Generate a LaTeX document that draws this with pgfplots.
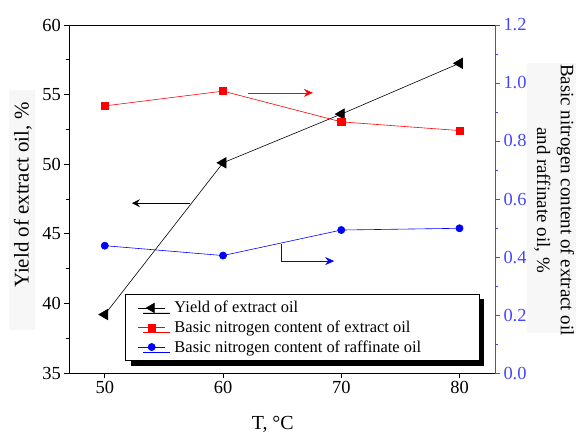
\documentclass[border=0pt]{standalone}
\usepackage{pgfplots}
\pgfplotsset{compat=1.18}
\usepackage{fontspec}
\setmainfont{Liberation Serif}
\usetikzlibrary{calc,shadows,arrows.meta}

\definecolor{nred}{RGB}{255,0,0}
\definecolor{nblue}{RGB}{0,0,255}
\definecolor{axblue}{RGB}{70,70,255}
\newcommand{\lentry}[1]{\hspace{7bp}\makebox[291bp][l]{#1}}

\begin{document}
\begin{tikzpicture}
% faint label backgrounds
\fill[black!3] (-60.3bp,43bp) rectangle (-34.3bp,283bp);
\fill[black!3] (457.7bp,40bp) rectangle (506.7bp,310bp);

\pgfplotsset{
  every axis/.append style={
    width=425.7bp, height=348bp, scale only axis,
    xmin=47, xmax=83,
    tick label style={font=\fontsize{18.5}{20}\selectfont},
    /pgf/number format/assume math mode=true,
    tick align=outside,
    major tick length=5bp, minor tick length=3bp,
    every tick/.style={line width=0.8pt},
  }
}

\begin{axis}[
  name=ax,
  ymin=35, ymax=60,
  xtick={50,60,70,80},
  ytick={35,40,45,50,55,60},
  minor y tick num=1,
  xtick pos=bottom, ytick pos=left,
  axis line style={line width=0.8pt},
  xlabel={T, °C},
  xlabel style={font=\fontsize{20}{22}\selectfont, at={(axis description cs:0.478,-0.149)}, anchor=center},
  ylabel={Yield of extract oil, \%},
  ylabel style={font=\fontsize{21}{23}\selectfont, at={(axis description cs:-0.109,0.511)}, anchor=center},
]
\addplot[black, line width=0.6pt, mark=triangle*, mark size=6bp, mark options={rotate=90, solid}]
  coordinates {(50,39.2) (60,50.1) (70,53.6) (80,57.25)};
\draw[black, line width=0.6pt, -{Stealth[length=8bp,width=8bp,inset=3bp]}]
  (axis cs:57.2,47.2) -- (axis cs:52.3,47.2);
\end{axis}

\begin{axis}[
  ymin=0, ymax=1.2,
  axis x line=none,
  axis y line*=right,
  ytick={0,0.2,...,1.2},
  minor y tick num=1,
  y axis line style={axblue, line width=0.8pt},
  y tick style={axblue},
  yticklabel style={axblue, /pgf/number format/.cd, fixed, fixed zerofill, precision=1},
  ylabel={Basic nitrogen content of extract oil\\and raffinate oil, \%},
  ylabel style={font=\fontsize{19}{24}\selectfont, align=center, rotate=180,
    at={(axis description cs:1.139,0.497)}, anchor=center},
  legend cell align=left,
  legend image code/.code={%
    \draw[mark repeat=2, mark phase=2] plot coordinates {(0bp,0bp) (13.5bp,0bp) (27bp,0bp)};},
  legend style={at={(0.132,0.227)}, anchor=north west,
    draw=black, line width=0.8pt, fill=white,
    font=\fontsize{16.5}{19}\selectfont,
    inner xsep=12bp, inner ysep=5bp, row sep=2.5bp,
    drop shadow={shadow xshift=5bp, shadow yshift=-5bp, fill=black, opacity=1}},
]
\addlegendimage{black, line width=0.6pt, mark=triangle*, mark size=5.5bp, mark options={rotate=90}}
\addplot[nred, line width=0.6pt, mark=square*, mark size=3.6bp]
  coordinates {(50,0.921) (60,0.972) (70,0.866) (80,0.836)};
\addplot[nblue, line width=0.6pt, mark=*, mark size=3.6bp]
  coordinates {(50,0.439) (60,0.405) (70,0.493) (80,0.499)};
\draw[nred, line width=0.6pt, -{Stealth[length=9bp,width=8bp,inset=3bp]}]
  (axis cs:62.1,0.966) -- (axis cs:67.6,0.966);
\draw[nblue, line width=0.6pt, -{Stealth[length=9bp,width=8bp,inset=3bp]}]
  (axis cs:64.9,0.445) -- (axis cs:64.9,0.386) -- (axis cs:69.4,0.386);
\legend{\lentry{Yield of extract oil}, \lentry{Basic nitrogen content of extract oil}, \lentry{Basic nitrogen content of raffinate oil}}
\end{axis}

\pgfresetboundingbox
\path[use as bounding box] ($(ax.south west)+(-69.3bp,-62bp)$) rectangle ($(ax.north east)+(81bp,25bp)$);
\end{tikzpicture}
\end{document}
